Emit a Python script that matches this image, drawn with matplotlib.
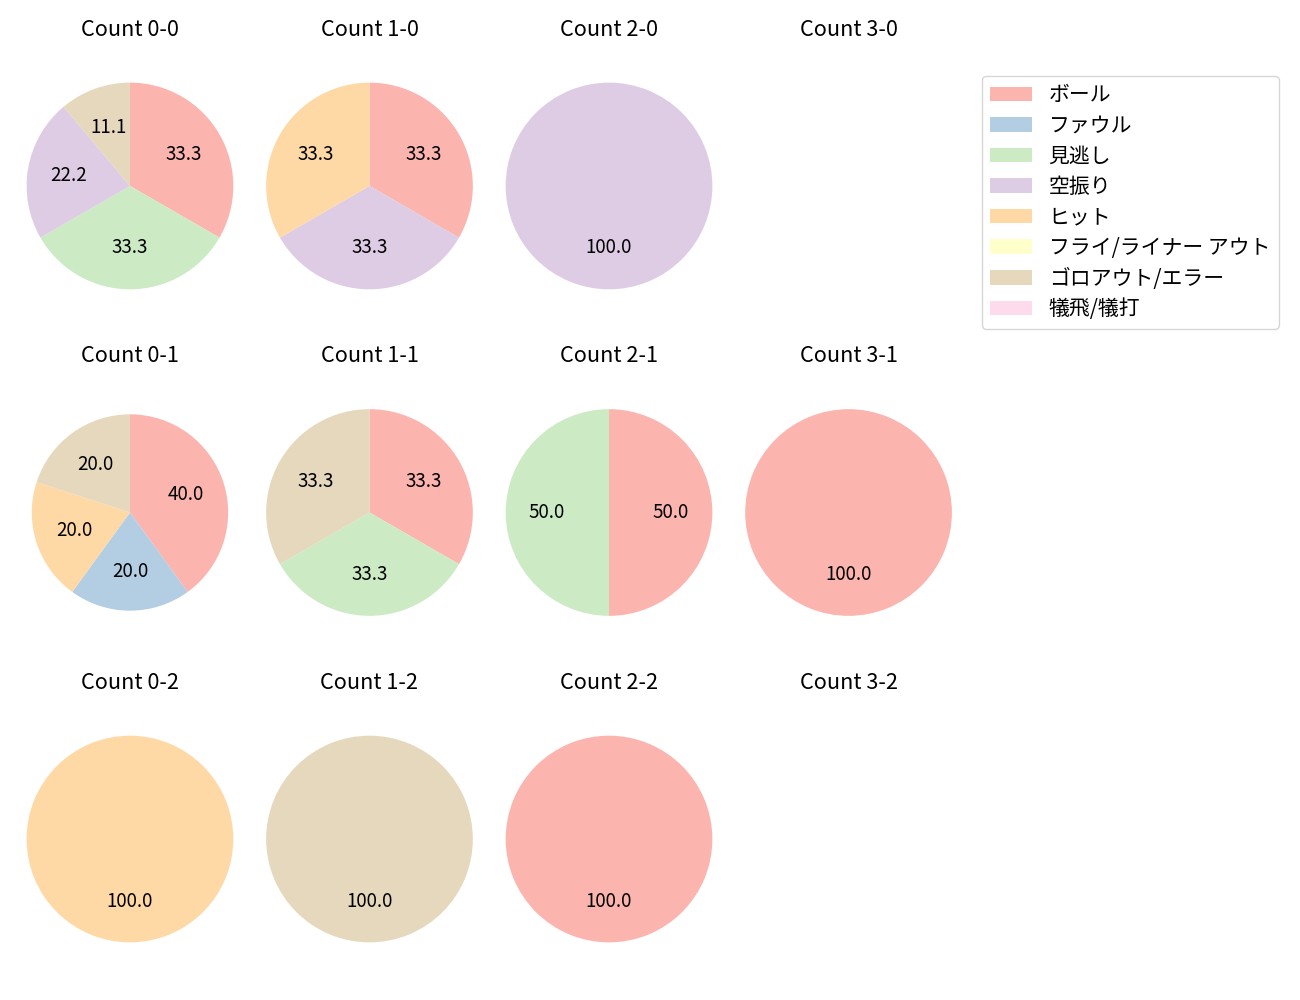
import matplotlib.pyplot as plt
from matplotlib.patches import Patch

plt.rcParams['font.family'] = ['Noto Sans CJK JP', 'DejaVu Sans']

# result categories and colours (Pastel1)
categories = ['ボール', 'ファウル', '見逃し', '空振り', 'ヒット',
              'フライ/ライナー アウト', 'ゴロアウト/エラー', '犠飛/犠打']
colors = ['#fbb4ae', '#b3cde3', '#ccebc5', '#decbe4', '#fed9a6',
          '#ffffcc', '#e5d8bd', '#fddaec']

balls = [0, 1, 2, 3]
strikes = [0, 1, 2]

# counts per result, keyed by "balls-strikes"; None = no pitches
count_0_0 = [3, 0, 3, 2, 0, 0, 1, 0]
count_1_0 = [1, 0, 0, 1, 1, 0, 0, 0]
count_2_0 = [0, 0, 0, 1, 0, 0, 0, 0]
count_3_0 = None
count_0_1 = [2, 1, 0, 0, 1, 0, 1, 0]
count_1_1 = [1, 0, 1, 0, 0, 0, 1, 0]
count_2_1 = [1, 0, 1, 0, 0, 0, 0, 0]
count_3_1 = [1, 0, 0, 0, 0, 0, 0, 0]
count_0_2 = [0, 0, 0, 0, 1, 0, 0, 0]
count_1_2 = [0, 0, 0, 0, 0, 0, 1, 0]
count_2_2 = [1, 0, 0, 0, 0, 0, 0, 0]
count_3_2 = None

counts = {
    (0, 0): count_0_0, (1, 0): count_1_0, (2, 0): count_2_0, (3, 0): count_3_0,
    (0, 1): count_0_1, (1, 1): count_1_1, (2, 1): count_2_1, (3, 1): count_3_1,
    (0, 2): count_0_2, (1, 2): count_1_2, (2, 2): count_2_2, (3, 2): count_3_2,
}

fig, axes = plt.subplots(3, 4, figsize=(13, 10), dpi=100)
fig.subplots_adjust(left=0.0169, right=0.7358, bottom=0.019, top=0.956,
                    wspace=0.109, hspace=0.15)

for s in strikes:
    for b in balls:
        ax = axes[s, b]
        vals = counts[(b, s)]
        ax.set_title(f'Count {b}-{s}', fontsize=15.6)
        if vals is None:
            ax.axis('off')
            continue
        ax.pie(vals, colors=colors, startangle=90, counterclock=False,
               autopct=lambda p: f'{p:.1f}' if p > 0 else '',
               textprops={'fontsize': 13.5})
        # the 0-1 pie is drawn a little smaller in the original
        lim = 1.1 if (b, s) == (0, 1) else 1.045
        ax.set_aspect('equal', adjustable='datalim')
        ax.set_xlim(-lim, lim)
        ax.set_ylim(-lim, lim)

handles = [Patch(facecolor=c, label=l) for c, l in zip(colors, categories)]
fig.legend(handles=handles, loc='upper left',
           bbox_to_anchor=(982 / 1300, 1 - 76 / 1000), borderaxespad=0,
           fontsize=15, labelspacing=0.41)

fig.savefig('out.png')
